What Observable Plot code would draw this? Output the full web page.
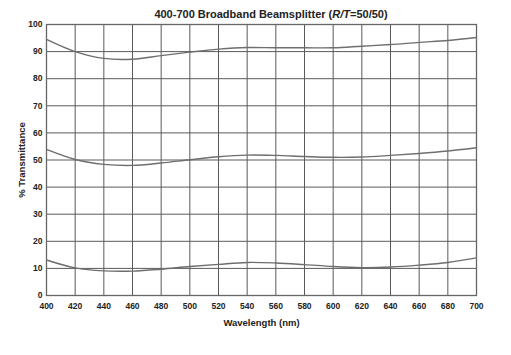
<!DOCTYPE html>
<html>
<head>
<meta charset="utf-8">
<script src="https://cdn.jsdelivr.net/npm/d3@7"></script>
<script src="https://cdn.jsdelivr.net/npm/@observablehq/plot@0.6"></script>
<style>
  html, body { margin: 0; padding: 0; background: #fff; }
  #wrap { position: relative; width: 511px; height: 355px; }
  #title { position: absolute; left: 0; top: 8px; width: 511px; padding-left: 31px; box-sizing: border-box;
    text-align: center; font: bold 11px "Liberation Sans", Arial, sans-serif; color: #222; }
</style>
</head>
<body>
<div id="wrap">
  <div id="title">400-700 Broadband Beamsplitter (<i>R/T</i>=50/50)</div>
</div>
<script>
const wavelengths = [400, 420, 440, 460, 480, 500, 520, 540, 560, 580, 600, 620, 640, 660, 680, 700];
const curveHigh = [94.5, 90.0, 87.5, 87.2, 88.5, 89.8, 90.9, 91.5, 91.4, 91.4, 91.4, 92.0, 92.6, 93.4, 94.1, 95.2];
const curveMid  = [53.9, 50.2, 48.4, 48.0, 48.9, 50.1, 51.2, 51.8, 51.7, 51.3, 51.0, 51.1, 51.7, 52.4, 53.3, 54.5];
const curveLow  = [13.1, 10.2, 9.1, 9.0, 9.7, 10.7, 11.5, 12.2, 12.0, 11.4, 10.7, 10.3, 10.5, 11.2, 12.2, 13.9];
const xTicks = d3.range(400, 701, 20);
const yTicks = d3.range(0, 101, 10);

const series = [
  {name: "high", values: curveHigh},
  {name: "mid", values: curveMid},
  {name: "low", values: curveLow}
];
const rows = series.flatMap(s => wavelengths.map((w, i) => ({series: s.name, wl: w, t: s.values[i]})));

const grid = "#5a5a5a";
const chart = Plot.plot({
  width: 511,
  height: 355,
  marginLeft: 46,
  marginRight: 35,
  marginTop: 24,
  marginBottom: 60,
  style: {fontFamily: "'Liberation Sans', Arial, sans-serif", fontSize: "8.5px", fontWeight: "bold", color: "#222", background: "#fff"},
  x: {domain: [400, 700], ticks: xTicks, tickSize: 0, tickPadding: 7, label: "Wavelength (nm)", labelAnchor: "center", labelArrow: "none", labelOffset: 32},
  y: {domain: [0, 100], ticks: yTicks, tickSize: 0, tickPadding: 4, label: "% Transmittance", labelAnchor: "center", labelArrow: "none", labelOffset: 30},
  marks: [
    Plot.gridX(xTicks, {stroke: grid, strokeOpacity: 1, strokeWidth: 1}),
    Plot.gridY(yTicks, {stroke: grid, strokeOpacity: 1, strokeWidth: 1}),
    Plot.frame({stroke: "#666", strokeWidth: 1.3}),
    Plot.line(rows, {x: "wl", y: "t", z: "series", stroke: "#6e6e6e", strokeWidth: 1.4, curve: "catmull-rom"}),
    Plot.axisX(xTicks, {tickSize: 0, tickPadding: 7, fontSize: 8.5, label: null}),
    Plot.axisY(yTicks, {tickSize: 0, tickPadding: 4, fontSize: 8.5, label: null}),
    Plot.axisX({ticks: [], label: "Wavelength (nm)", labelAnchor: "center", labelArrow: "none", labelOffset: 30, fontSize: 9.5}),
    Plot.axisY({ticks: [], label: "% Transmittance", labelAnchor: "center", labelArrow: "none", labelOffset: 28, fontSize: 9.5})
  ]
});
document.getElementById("wrap").prepend(chart);
</script>
</body>
</html>
